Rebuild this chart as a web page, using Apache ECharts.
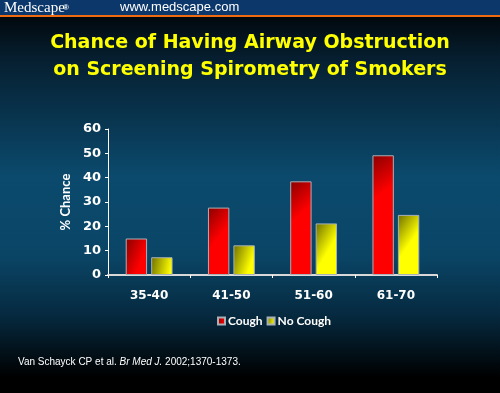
<!DOCTYPE html>
<html><head><meta charset="utf-8">
<script src="https://cdn.jsdelivr.net/npm/echarts@6/dist/echarts.min.js"></script>
<style>html,body{margin:0;padding:0;background:#000}#c{width:500px;height:393px}</style>
</head><body><div id="c"></div>
<script>
const categories = ['35-40', '41-50', '51-60', '61-70'];
const coughValues = [15, 27.7, 38.5, 49.2];
const noCoughValues = [7.3, 12.2, 21.2, 24.7];
const yTicks = [0, 10, 20, 30, 40, 50, 60];
const titleLines = ['Chance of Having Airway Obstruction', 'on Screening Spirometry of Smokers'];

const chart = echarts.init(document.getElementById('c'), null, {renderer: 'canvas'});
const grad = (c1, c2) => new echarts.graphic.LinearGradient(0, 0, 1, 0.25, [{offset: 0, color: c1}, {offset: 1, color: c2}]);
const font = 'DejaVu Sans';
chart.setOption({
  animation: false,
  backgroundColor: new echarts.graphic.LinearGradient(0, 0, 0, 1, [
    {offset: 0, color: '#000000'},
    {offset: 0.05, color: '#020a10'},
    {offset: 0.15, color: '#061f30'},
    {offset: 0.45, color: '#0b4a6d'},
    {offset: 0.65, color: '#0a4566'},
    {offset: 0.8, color: '#062a40'},
    {offset: 0.96, color: '#000000'},
    {offset: 1, color: '#000000'}
  ]),
  graphic: [
    {type: 'rect', left: 0, top: 0, shape: {width: 500, height: 15}, style: {fill: '#0b376a'}, z: 10},
    {type: 'rect', left: 0, top: 15, shape: {width: 500, height: 2}, style: {fill: '#f06a10'}, z: 10},
    {type: 'text', left: 4, top: 1, style: {text: 'Medscape', fill: '#fff', font: '15px "Liberation Serif"'}, z: 11},
    {type: 'text', left: 63, top: 4, style: {text: '®', fill: '#fff', font: 'bold 8px "Liberation Sans"'}, z: 11},
    {type: 'text', left: 120, top: 1, style: {text: 'www.medscape.com', fill: '#fff', font: '13px "Liberation Sans"'}, z: 11},
    {type: 'text', left: 18, top: 357, style: {
      rich: {n: {fill: '#fff', font: '10px "Liberation Sans"'}, i: {fill: '#fff', font: 'italic 10px "Liberation Sans"'}},
      text: '{n|Van Schayck CP et al. }{i|Br Med J.}{n| 2002;1370-1373.}'}, z: 11}
  ],
  title: {
    text: titleLines.join('\n'),
    left: 'center', top: 25,
    textStyle: {color: '#ffff00', fontFamily: font, fontWeight: 'bold', fontSize: 19, lineHeight: 27,
      textShadowColor: '#000', textShadowBlur: 0, textShadowOffsetX: 1, textShadowOffsetY: 1}
  },
  legend: {
    data: ['Cough', 'No Cough'],
    top: 310, left: 212,
    itemWidth: 7, itemHeight: 7, itemGap: 4,
    icon: 'rect',
    textStyle: {color: '#fff', fontFamily: 'Lato', fontWeight: 'bold', fontSize: 12, padding: [0, 0, 0, -2]}
  },
  grid: {left: 108, right: 63, top: 129, bottom: 118},
  xAxis: {
    type: 'category', data: categories,
    axisLine: {lineStyle: {color: '#d8d8d8', width: 2}},
    axisTick: {show: true, length: 3, inside: false, lineStyle: {color: '#fff'}},
    axisLabel: {color: '#fff', fontFamily: font, fontWeight: 'bold', fontSize: 12, margin: 15}
  },
  yAxis: {
    type: 'value', min: 0, max: 60, interval: 10,
    name: '% Chance', nameLocation: 'middle', nameGap: 33, nameRotate: 90,
    nameTextStyle: {color: '#fff', fontFamily: 'Lato', fontWeight: 'bold', fontSize: 13},
    axisLine: {show: true, lineStyle: {color: '#fff', width: 1}},
    axisTick: {show: true, length: 3, lineStyle: {color: '#fff'}},
    splitLine: {show: false},
    axisLabel: {color: '#fff', fontFamily: font, fontWeight: 'bold', fontSize: 13, margin: 7,
      formatter: v => yTicks.includes(v) ? String(v) : ''}
  },
  series: [
    {name: 'Cough', type: 'bar', data: coughValues, barWidth: '26%', barGap: '19%',
      itemStyle: {color: grad('#8a0000', '#ff0000'), borderColor: '#a8b0b8', borderWidth: 1}},
    {name: 'No Cough', type: 'bar', data: noCoughValues, barWidth: '26%',
      itemStyle: {color: grad('#6e6e00', '#ffff00'), borderColor: '#a8b0b8', borderWidth: 1}}
  ]
});
</script></body></html>
